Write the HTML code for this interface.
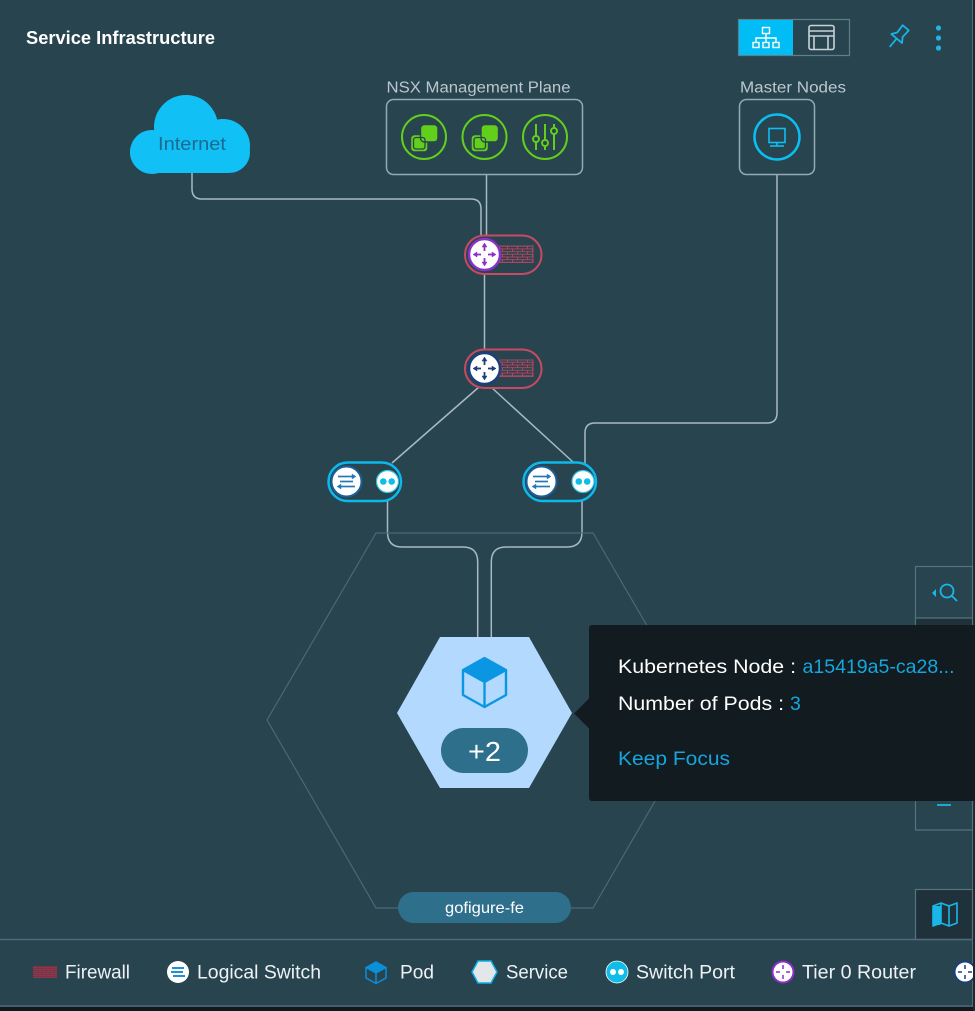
<!DOCTYPE html>
<html><head><meta charset="utf-8">
<style>
html,body{margin:0;padding:0;background:#28444f;overflow:hidden;}
svg{display:block;}
text{font-family:"Liberation Sans",sans-serif;}
</style></head><body>
<svg width="975" height="1011" viewBox="0 0 975 1011" xmlns="http://www.w3.org/2000/svg">
<defs>
<pattern id="brick" width="10" height="5.4" patternUnits="userSpaceOnUse">
 <path d="M0 0.5H10 M0 3.2H10 M2.5 0.5V3.2 M7.5 3.2V5.9" stroke="#b0455f" stroke-width="1" fill="none"/>
</pattern>
<pattern id="brick2" width="8" height="4" patternUnits="userSpaceOnUse">
 <rect width="8" height="4" fill="#8b3a4e"/>
 <path d="M0 0.5H8 M0 2.5H8 M2 0.5V2.5 M6 2.5V4.5" stroke="#6e2c3d" stroke-width="0.6" fill="none"/>
</pattern>
</defs>

<!-- background -->
<rect x="0" y="0" width="975" height="1011" fill="#28444f"/>
<rect x="0" y="1007" width="975" height="4" fill="#10191d"/>
<line x1="972.5" y1="0" x2="972.5" y2="1007" stroke="#4f6d7a" stroke-width="1"/>
<rect x="973" y="0" width="2" height="1011" fill="#1b2a31"/>

<!-- header -->
<text x="26" y="44" font-size="18" font-weight="bold" fill="#ffffff" textLength="189" lengthAdjust="spacingAndGlyphs">Service Infrastructure</text>

<rect x="738.5" y="19.5" width="111" height="36" fill="none" stroke="#5f7f8b" stroke-width="1.2"/>
<rect x="739" y="20" width="54" height="35" fill="#00bdf6"/>
<g stroke="#ffffff" stroke-width="1.4" fill="none">
 <rect x="762.5" y="27.5" width="7" height="6"/>
 <line x1="766" y1="33.5" x2="766" y2="38"/>
 <path d="M756 42V38H776V42"/>
 <line x1="766" y1="38" x2="766" y2="42"/>
 <rect x="753" y="42.5" width="6" height="5"/>
 <rect x="763" y="42.5" width="6" height="5"/>
 <rect x="773" y="42.5" width="6" height="5"/>
</g>
<g stroke="#c9d2d6" stroke-width="1.6" fill="none">
 <rect x="809" y="25.5" width="25" height="24" rx="2"/>
 <line x1="809" y1="31" x2="834" y2="31"/>
 <line x1="809" y1="36" x2="834" y2="36"/>
 <line x1="814" y1="36" x2="814" y2="49.5"/>
 <line x1="828" y1="36" x2="828" y2="49.5"/>
</g>
<!-- pin -->
<g transform="translate(898,37) rotate(40)" stroke="#19b4e6" stroke-width="1.8" fill="none" stroke-linejoin="round">
 <path d="M-4 -12 L4 -12 L3.5 -3 L7 2 L-7 2 L-3.5 -3 Z"/>
 <line x1="0" y1="2" x2="0" y2="13"/>
</g>
<circle cx="938.5" cy="28" r="2.6" fill="#1fb4e6"/>
<circle cx="938.5" cy="38" r="2.6" fill="#1fb4e6"/>
<circle cx="938.5" cy="48" r="2.6" fill="#1fb4e6"/>

<!-- connectors -->
<g stroke="#a7bac4" stroke-width="1.5" fill="none">
 <path d="M192 172 V189 Q192 199 202 199 H471 Q481 199 481 209 V237"/>
 <line x1="486.5" y1="174" x2="486.5" y2="237"/>
 <line x1="484.5" y1="274" x2="484.5" y2="349"/>
 <line x1="479" y1="387" x2="392" y2="463"/>
 <line x1="491" y1="387" x2="573" y2="462"/>
 <path d="M777 174 V413 Q777 423 767 423 H595 Q585 423 585 433 V463"/>
 <path d="M387.5 500 V532 Q387.5 547 402 547 H463 Q477.7 547 477.7 562 V637"/>
 <path d="M582 500 V532 Q582 547 567 547 H506 Q491.3 547 491.3 562 V637"/>
</g>

<!-- Internet cloud -->
<g fill="#11c1f6">
 <circle cx="186" cy="127" r="32"/>
 <circle cx="152" cy="152" r="22"/>
 <circle cx="223" cy="146" r="27"/>
 <rect x="130" y="132" width="120" height="41" rx="21"/>
</g>
<text x="158" y="150" font-size="18.5" fill="#1b6a8f" textLength="68" lengthAdjust="spacingAndGlyphs">Internet</text>

<!-- NSX Management Plane -->
<text x="386.5" y="92.5" font-size="15.5" fill="#bac8ce" textLength="184" lengthAdjust="spacingAndGlyphs">NSX Management Plane</text>
<rect x="386.5" y="99.5" width="196" height="75" rx="7" fill="none" stroke="#93a9b3" stroke-width="1.5"/>
<g stroke="#62d01b" stroke-width="2" fill="none">
 <circle cx="424" cy="137" r="22"/>
 <circle cx="484.5" cy="137" r="22"/>
 <circle cx="545" cy="137" r="22"/>
</g>
<g fill="#62d01b" stroke="#28444f" stroke-width="1.4">
 <rect x="410.5" y="134.5" width="17.5" height="17.5" rx="4"/>
 <rect x="420.5" y="124.5" width="17.5" height="17.5" rx="4"/>
 <rect x="471" y="134.5" width="17.5" height="17.5" rx="4"/>
 <rect x="481" y="124.5" width="17.5" height="17.5" rx="4"/>
</g>
<g fill="none" stroke="#28444f" stroke-width="1.3">
 <rect x="413.5" y="137.5" width="11.5" height="11.5" rx="2.5"/>
 <rect x="474" y="137.5" width="11.5" height="11.5" rx="2.5"/>
</g>
<g stroke="#62d01b" stroke-width="2" fill="#28444f">
 <line x1="536" y1="124" x2="536" y2="150"/>
 <line x1="545" y1="124" x2="545" y2="150"/>
 <line x1="554" y1="124" x2="554" y2="150"/>
 <circle cx="536" cy="139" r="3"/>
 <circle cx="545" cy="143" r="3"/>
 <circle cx="554" cy="131" r="3"/>
</g>

<!-- Master Nodes -->
<text x="740" y="92.3" font-size="15.5" fill="#bac8ce" textLength="106" lengthAdjust="spacingAndGlyphs">Master Nodes</text>
<rect x="739.5" y="99.5" width="75" height="75" rx="7" fill="none" stroke="#93a9b3" stroke-width="1.5"/>
<circle cx="777" cy="137" r="22.5" fill="none" stroke="#0cbff2" stroke-width="2.5"/>
<g stroke="#0cbff2" stroke-width="1.6" fill="none">
 <rect x="769" y="128.5" width="16" height="14"/>
 <line x1="777" y1="142.5" x2="777" y2="146"/>
 <line x1="770" y1="146" x2="784" y2="146"/>
</g>

<!-- Router 1 -->
<rect x="465" y="235.5" width="76.5" height="38.5" rx="19.25" fill="#28444f" stroke="#c84a62" stroke-width="2"/>
<rect x="500" y="246" width="33" height="16.5" fill="url(#brick)"/>
<rect x="500" y="246" width="33" height="16.5" fill="none" stroke="#b0455f" stroke-width="1"/>
<circle cx="484.5" cy="254.5" r="15.5" fill="#ffffff" stroke="#8d2fc9" stroke-width="2.5"/>
<g stroke="#8d2fc9" stroke-width="1.8" fill="#8d2fc9">
 <line x1="475" y1="254.5" x2="481" y2="254.5"/>
 <line x1="488" y1="254.5" x2="494" y2="254.5"/>
 <line x1="484.5" y1="245" x2="484.5" y2="251"/>
 <line x1="484.5" y1="258" x2="484.5" y2="264"/>
 <path d="M473 254.5 L477 252 L477 257 Z" stroke-width="0.5"/>
 <path d="M496 254.5 L492 252 L492 257 Z" stroke-width="0.5"/>
 <path d="M484.5 243 L482 247 L487 247 Z" stroke-width="0.5"/>
 <path d="M484.5 266 L482 262 L487 262 Z" stroke-width="0.5"/>
</g>

<!-- Router 2 -->
<rect x="465" y="349.5" width="76.5" height="38.5" rx="19.25" fill="#28444f" stroke="#c84a62" stroke-width="2"/>
<rect x="500" y="360" width="33" height="16.5" fill="url(#brick)"/>
<rect x="500" y="360" width="33" height="16.5" fill="none" stroke="#b0455f" stroke-width="1"/>
<circle cx="484.5" cy="368.5" r="15.5" fill="#ffffff" stroke="#1b3f7d" stroke-width="2.5"/>
<g stroke="#1b3f7d" stroke-width="1.8" fill="#1b3f7d">
 <line x1="475" y1="368.5" x2="481" y2="368.5"/>
 <line x1="488" y1="368.5" x2="494" y2="368.5"/>
 <line x1="484.5" y1="359" x2="484.5" y2="365"/>
 <line x1="484.5" y1="372" x2="484.5" y2="378"/>
 <path d="M473 368.5 L477 366 L477 371 Z" stroke-width="0.5"/>
 <path d="M496 368.5 L492 366 L492 371 Z" stroke-width="0.5"/>
 <path d="M484.5 357 L482 361 L487 361 Z" stroke-width="0.5"/>
 <path d="M484.5 380 L482 376 L487 376 Z" stroke-width="0.5"/>
</g>

<!-- Switch left -->
<rect x="328.5" y="462.5" width="72.5" height="38.5" rx="19.25" fill="#28444f" stroke="#0db8ec" stroke-width="2.5"/>
<circle cx="346.5" cy="481.5" r="15" fill="#ffffff" stroke="#1b5f96" stroke-width="2"/>
<g stroke="#2379b8" stroke-width="1.7" fill="#2379b8">
 <line x1="338" y1="476.5" x2="354" y2="476.5"/>
 <line x1="340" y1="481.5" x2="353" y2="481.5"/>
 <line x1="339" y1="486.5" x2="355" y2="486.5"/>
 <path d="M356 476.5 L352 474 L352 479 Z" stroke-width="0.4"/>
 <path d="M337 486.5 L341 484 L341 489 Z" stroke-width="0.4"/>
</g>
<circle cx="387.5" cy="481.5" r="11" fill="#ffffff" stroke="#2cc3ec" stroke-width="1.2"/>
<circle cx="383.3" cy="481.5" r="3.3" fill="#0fbde9"/>
<circle cx="391.7" cy="481.5" r="3.3" fill="#0fbde9"/>

<!-- Switch right -->
<rect x="523.5" y="462.5" width="72.5" height="38.5" rx="19.25" fill="#28444f" stroke="#0db8ec" stroke-width="2.5"/>
<circle cx="541.5" cy="481.5" r="15" fill="#ffffff" stroke="#1b5f96" stroke-width="2"/>
<g stroke="#2379b8" stroke-width="1.7" fill="#2379b8">
 <line x1="533" y1="476.5" x2="549" y2="476.5"/>
 <line x1="535" y1="481.5" x2="548" y2="481.5"/>
 <line x1="534" y1="486.5" x2="550" y2="486.5"/>
 <path d="M551 476.5 L547 474 L547 479 Z" stroke-width="0.4"/>
 <path d="M532 486.5 L536 484 L536 489 Z" stroke-width="0.4"/>
</g>
<circle cx="583" cy="481.5" r="11" fill="#ffffff" stroke="#2cc3ec" stroke-width="1.2"/>
<circle cx="578.8" cy="481.5" r="3.3" fill="#0fbde9"/>
<circle cx="587.2" cy="481.5" r="3.3" fill="#0fbde9"/>

<!-- Service hexagon -->
<polygon points="376,533 593,533 702,720 593,908 376,908 267,720" fill="none" stroke="#4c6873" stroke-width="1.2"/>

<!-- Pod hexagon -->
<polygon points="440,637 529,637 572,713 529,788 440,788 397,713" fill="#b3d9fe"/>
<polygon points="484.5,658 506,670 484.5,682 463,670" fill="#0b96e3"/>
<path d="M484.5 658 L506 670 L506 695 L484.5 707 L463 695 L463 670 Z M463 670 L484.5 682 L506 670 M484.5 682 V707" fill="none" stroke="#0b96e3" stroke-width="2.4" stroke-linejoin="round"/>
<rect x="441" y="728" width="87" height="45" rx="22.5" fill="#2e6f8b"/>
<text x="468" y="761" font-size="28" fill="#ffffff" textLength="33" lengthAdjust="spacingAndGlyphs">+2</text>

<!-- service label -->
<rect x="398" y="892" width="173" height="31" rx="15.5" fill="#2e6f8b"/>
<text x="445" y="913" font-size="16" fill="#ffffff" textLength="79" lengthAdjust="spacingAndGlyphs">gofigure-fe</text>

<!-- right zoom panel -->
<rect x="915.5" y="566.5" width="57" height="263.5" fill="none" stroke="#56737f" stroke-width="1.2"/>
<rect x="916" y="618" width="56" height="60" fill="#1f323c"/>
<line x1="915.5" y1="618" x2="972.5" y2="618" stroke="#56737f" stroke-width="1.2"/>
<circle cx="947" cy="591" r="6.5" fill="none" stroke="#19b6e8" stroke-width="1.8"/>
<line x1="951.5" y1="595.5" x2="957" y2="601" stroke="#19b6e8" stroke-width="1.8"/>
<path d="M932 593 L936 589 L936 597 Z" fill="#19b6e8"/>
<line x1="937" y1="805" x2="951" y2="805" stroke="#19b6e8" stroke-width="1.8"/>
<rect x="915.5" y="889.5" width="57" height="50" fill="#1f323c" stroke="#56737f" stroke-width="1.2"/>
<g stroke="#19b6e8" stroke-width="1.6" fill="none" stroke-linejoin="round">
 <path d="M933 906 L941 903 L949 906 L957 903 L957 923 L949 926 L941 923 L933 926 Z"/>
 <line x1="941" y1="903" x2="941" y2="923"/>
 <line x1="949" y1="906" x2="949" y2="926"/>
</g>
<rect x="933.5" y="906" width="7" height="19" fill="#19b6e8"/>

<!-- tooltip -->
<path d="M574 713.5 L590 697.5 L590 729.5 Z" fill="#121b20"/>
<rect x="589" y="625" width="390" height="176" rx="3" fill="#121b20"/>
<text x="618" y="673" font-size="19.5" fill="#ffffff" textLength="178" lengthAdjust="spacingAndGlyphs">Kubernetes Node :</text>
<text x="802.5" y="673" font-size="19.5" fill="#16a5dc" textLength="152" lengthAdjust="spacingAndGlyphs">a15419a5-ca28...</text>
<text x="618" y="710" font-size="19.5" fill="#ffffff" textLength="166" lengthAdjust="spacingAndGlyphs">Number of Pods :</text>
<text x="790" y="710" font-size="19.5" fill="#16a5dc">3</text>
<text x="618" y="765" font-size="19.5" fill="#16a5dc" textLength="112" lengthAdjust="spacingAndGlyphs">Keep Focus</text>

<!-- legend -->
<line x1="0" y1="939.5" x2="973" y2="939.5" stroke="#4c6a77" stroke-width="1.5"/>
<line x1="0" y1="1006" x2="973" y2="1006" stroke="#4c6a77" stroke-width="1.5"/>

<rect x="33" y="966" width="24" height="12" fill="url(#brick2)"/>
<text x="65" y="978.5" font-size="19" fill="#eef2f4" textLength="65" lengthAdjust="spacingAndGlyphs">Firewall</text>

<circle cx="178" cy="972" r="11" fill="#ffffff"/>
<g stroke="#1e90d6" stroke-width="2">
 <line x1="172" y1="968" x2="184" y2="968"/>
 <line x1="171" y1="972" x2="183" y2="972"/>
 <line x1="173" y1="976" x2="185" y2="976"/>
</g>
<text x="197" y="978.5" font-size="19" fill="#eef2f4" textLength="124" lengthAdjust="spacingAndGlyphs">Logical Switch</text>

<polygon points="376,962 386,967.5 376,973 366,967.5" fill="#0b8fd8"/>
<path d="M376 962 L386 967.5 L386 978 L376 983.5 L366 978 L366 967.5 Z M366 967.5 L376 973 L386 967.5 M376 973 V983.5" fill="none" stroke="#0b8fd8" stroke-width="1.5" stroke-linejoin="round"/>
<text x="400" y="978.5" font-size="19" fill="#eef2f4" textLength="34" lengthAdjust="spacingAndGlyphs">Pod</text>

<polygon points="478,961 491,961 497,972 491,983 478,983 472,972" fill="#e3e7e9" stroke="#0bb0e6" stroke-width="1.5"/>
<text x="506" y="978.5" font-size="19" fill="#eef2f4" textLength="62" lengthAdjust="spacingAndGlyphs">Service</text>

<circle cx="617" cy="972" r="11" fill="#10bde8" stroke="#ffffff" stroke-width="0.8"/>
<circle cx="613" cy="972" r="3" fill="#ffffff"/>
<circle cx="621" cy="972" r="3" fill="#ffffff"/>
<text x="636" y="978.5" font-size="19" fill="#eef2f4" textLength="99" lengthAdjust="spacingAndGlyphs">Switch Port</text>

<circle cx="783" cy="972" r="10.5" fill="#ffffff" stroke="#8d2fc9" stroke-width="2"/>
<g stroke="#8d2fc9" stroke-width="1.5">
 <line x1="776" y1="972" x2="780" y2="972"/>
 <line x1="786" y1="972" x2="790" y2="972"/>
 <line x1="783" y1="965" x2="783" y2="969"/>
 <line x1="783" y1="975" x2="783" y2="979"/>
</g>
<text x="802" y="978.5" font-size="19" fill="#eef2f4" textLength="114" lengthAdjust="spacingAndGlyphs">Tier 0 Router</text>

<circle cx="965" cy="972" r="10.5" fill="#ffffff" stroke="#1b3f7d" stroke-width="2"/>
<g stroke="#1b3f7d" stroke-width="1.5">
 <line x1="958" y1="972" x2="962" y2="972"/>
 <line x1="968" y1="972" x2="972" y2="972"/>
 <line x1="965" y1="965" x2="965" y2="969"/>
 <line x1="965" y1="975" x2="965" y2="979"/>
</g>
<rect x="973" y="940" width="2" height="71" fill="#1b2a31"/>
</svg>
</body></html>
